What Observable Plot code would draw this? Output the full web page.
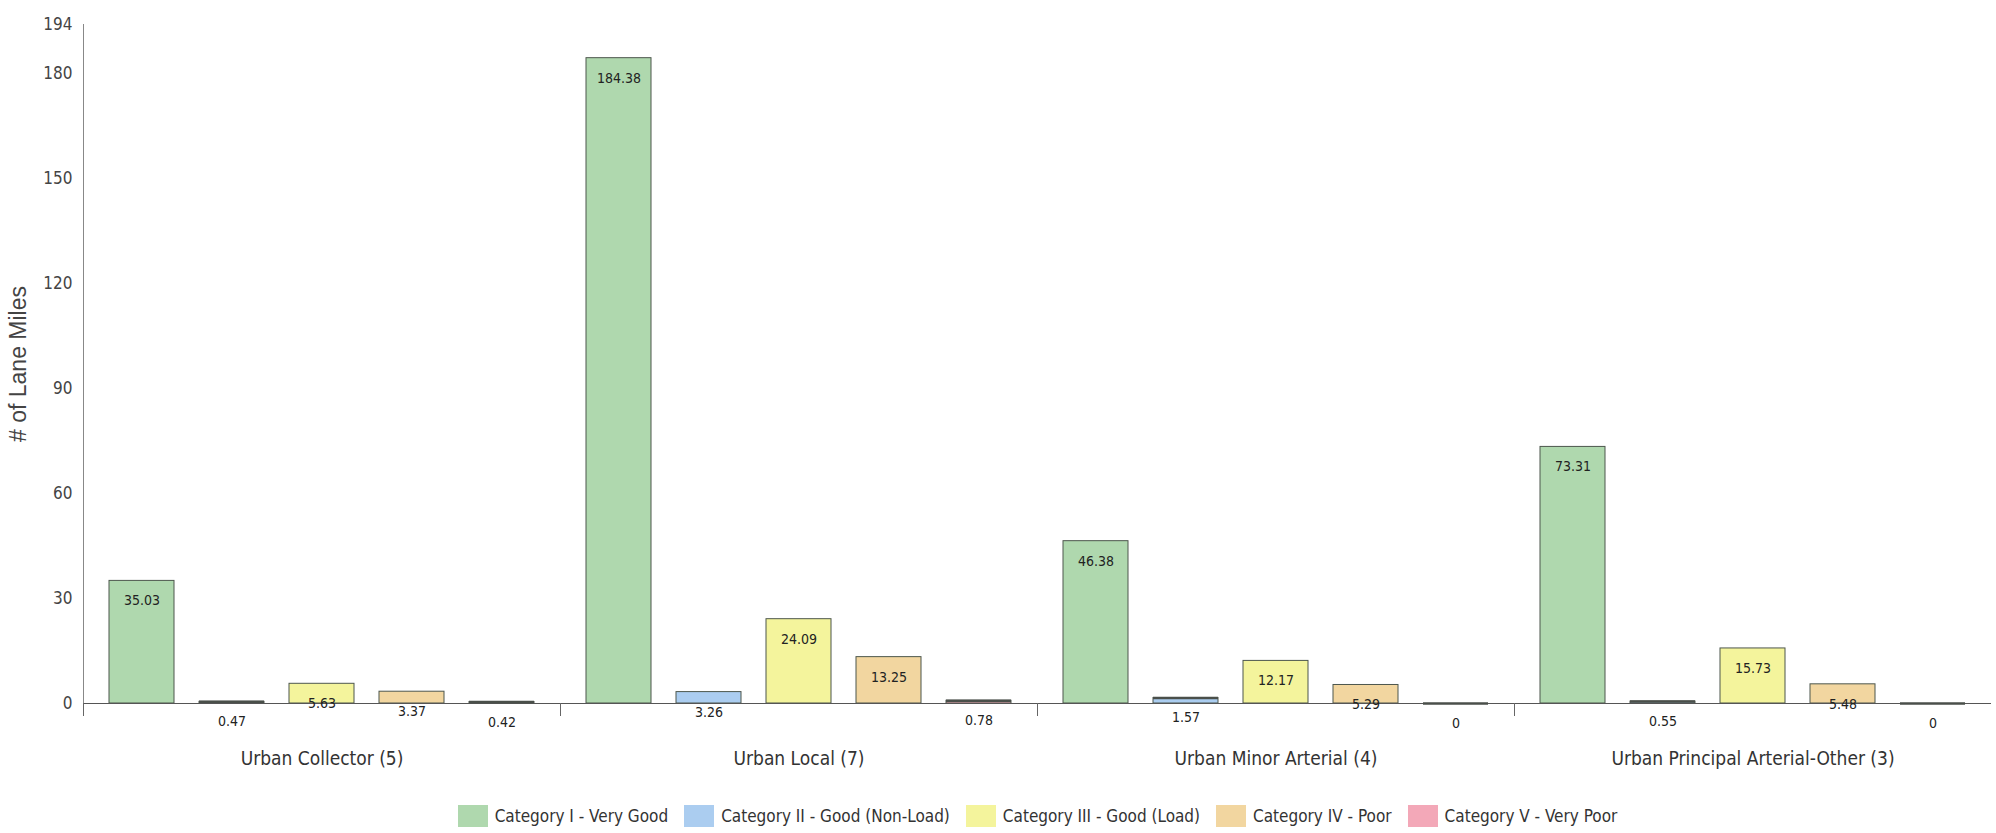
<!DOCTYPE html>
<html>
<head>
<meta charset="utf-8">
<script src="https://cdn.jsdelivr.net/npm/d3@7"></script>
<script src="https://cdn.jsdelivr.net/npm/@observablehq/plot@0.6"></script>
<style>
  html, body { margin: 0; padding: 0; background: #fff; }
  body { width: 1996px; height: 833px; overflow: hidden; font-family: "Liberation Sans Narrow", "DejaVu Sans Condensed", "Arial Narrow", "Liberation Sans", sans-serif; }
  #legend { display: flex; justify-content: center; align-items: center; margin-left: 83px; width: 1909px; margin-top: 20px; font-size: 17px; color: #333; }
  #legend .item { display: flex; align-items: center; margin: 0 8px; }
  #legend .sw { width: 30px; height: 22px; margin-right: 7px; }
</style>
</head>
<body>
<div id="chart"></div>
<div id="legend"></div>
<script>
const groups = ["Urban Collector (5)", "Urban Local (7)", "Urban Minor Arterial (4)", "Urban Principal Arterial-Other (3)"];
const categories = ["Category I - Very Good", "Category II - Good (Non-Load)", "Category III - Good (Load)", "Category IV - Poor", "Category V - Very Poor"];
const catI   = [35.03, 184.38, 46.38, 73.31];
const catII  = [0.47, 3.26, 1.57, 0.55];
const catIII = [5.63, 24.09, 12.17, 15.73];
const catIV  = [3.37, 13.25, 5.29, 5.48];
const catV   = [0.42, 0.78, 0, 0];
const yTicks = [0, 30, 60, 90, 120, 150, 180, 194];
const colors = ["#afd8ae", "#abcdf0", "#f4f49c", "#f2d6a0", "#f3a8b8"];

const series = [catI, catII, catIII, catIV, catV];
const rows = [];
groups.forEach((g, gi) => {
  categories.forEach((c, ci) => {
    rows.push({group: g, category: c, value: series[ci][gi]});
  });
});

const narrow = "'Liberation Sans Narrow', 'DejaVu Sans Condensed', 'Arial Narrow', 'Liberation Sans', sans-serif";

const chart = Plot.plot({
  width: 1996,
  height: 785,
  marginLeft: 83,
  marginRight: 5,
  marginTop: 24,
  marginBottom: 82,
  style: {fontFamily: narrow, background: "#fff", color: "#444"},
  fx: {domain: groups, padding: 0, label: null},
  x: {domain: categories, paddingInner: 0.28, paddingOuter: 0.27, axis: null},
  y: {domain: [0, 194], axis: null},
  color: {domain: categories, range: colors},
  marks: [
    Plot.barY(rows, {fx: "group", x: "category", y: "value", fill: "category", stroke: "#4d574d", strokeWidth: 1}),
    Plot.ruleY([0], {stroke: "#555", strokeWidth: 1.2}),
    Plot.tickY(rows.filter(d => d.value < 2), {fx: "group", x: "category", y: "value", stroke: "#4a4f4a", strokeWidth: 2.5}),
    Plot.frame({anchor: "left", stroke: "#888", facetAnchor: "left"}),
    Plot.frame({anchor: "left", stroke: "#666", insetTop: 679, insetBottom: -12}),
    Plot.text(rows, {fx: "group", x: "category", y: "value", text: d => String(d.value), dy: 20, fontSize: 14, fill: "#222"}),
    Plot.axisY({ticks: yTicks, tickSize: 0, tickPadding: 11, fontSize: 17, label: null, color: "#444"}),
    Plot.axisY({ticks: [], label: "# of Lane Miles", labelArrow: "none", labelAnchor: "center", labelOffset: 74, fontSize: 23, fontFamily: "'Liberation Sans', Arial, sans-serif", color: "#444"}),
    Plot.axisFx({anchor: "bottom", tickSize: 0, tickPadding: 48, fontSize: 19, label: null, color: "#333"})
  ]
});
document.getElementById("chart").appendChild(chart);

const legend = document.getElementById("legend");
categories.forEach((c, i) => {
  const item = document.createElement("div");
  item.className = "item";
  const sw = document.createElement("span");
  sw.className = "sw";
  sw.style.background = colors[i];
  const t = document.createElement("span");
  t.textContent = c;
  item.appendChild(sw);
  item.appendChild(t);
  legend.appendChild(item);
});
</script>
</body>
</html>
